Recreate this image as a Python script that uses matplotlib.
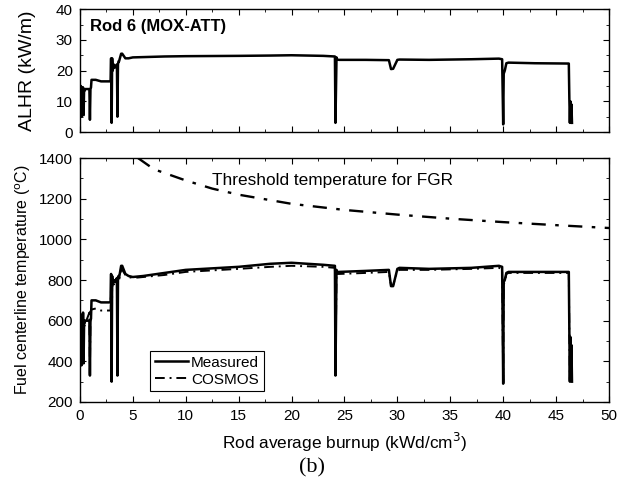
import matplotlib.pyplot as plt
from matplotlib.ticker import MultipleLocator

plt.rcParams["font.family"] = ["Liberation Sans", "DejaVu Sans"]
plt.rcParams["font.size"] = 11


# DATA

burnup_alhr = [0.0, 0.05, 0.1, 0.15, 0.2, 0.25, 0.3, 0.35, 0.4, 0.45, 0.5,
               0.9, 0.95, 1.0, 1.05, 1.1, 1.5, 2.0, 2.9, 2.95, 3.0, 3.05,
               3.1, 3.2, 3.3, 3.5, 3.55, 3.6, 3.65, 3.7, 3.9, 4.0, 4.3,
               4.6, 5.0, 6.0, 8.0, 10.0, 15.0, 18.0, 20.0, 23.0, 24.1,
               24.15, 24.25, 24.3, 24.5, 27.0, 29.2, 29.4, 29.6, 30.0,
               30.2, 33.0, 37.0, 39.6, 39.9, 40.0, 40.05, 40.15, 40.3,
               40.5, 43.0, 46.2, 46.25, 46.3, 46.35, 46.4, 46.45, 46.5]
alhr = [14.0, 6.0, 15.0, 5.0, 14.0, 7.0, 14.5, 5.5, 14.0, 13.5, 14.0,
        14.0, 4.0, 14.0, 14.5, 17.0, 17.0, 16.5, 16.5, 24.0, 3.0, 24.0,
        20.0, 22.0, 21.0, 22.0, 5.0, 22.0, 23.0, 23.0, 25.5, 25.5, 24.0,
        24.0, 24.3, 24.4, 24.6, 24.7, 24.8, 24.9, 25.0, 24.8, 24.6, 3.0,
        24.3, 23.6, 23.5, 23.5, 23.4, 20.5, 20.6, 23.5, 23.6, 23.5, 23.7,
        23.9, 23.7, 2.5, 19.0, 20.0, 22.4, 22.6, 22.4, 22.3, 11.0, 3.0,
        10.0, 3.5, 9.0, 3.0]

burnup_temp = [0.0, 0.05, 0.1, 0.15, 0.2, 0.25, 0.3, 0.35, 0.4, 0.45, 0.5,
               0.9, 0.95, 1.0, 1.05, 1.1, 1.5, 2.0, 2.9, 2.95, 3.0, 3.05,
               3.1, 3.2, 3.3, 3.5, 3.55, 3.6, 3.65, 3.7, 3.9, 4.0, 4.3,
               4.6, 5.0, 6.0, 8.0, 10.0, 15.0, 18.0, 20.0, 23.0, 24.1,
               24.15, 24.25, 24.3, 24.5, 27.0, 29.2, 29.4, 29.6, 30.0,
               30.2, 33.0, 37.0, 39.6, 39.9, 40.0, 40.05, 40.15, 40.3,
               40.5, 43.0, 46.2, 46.25, 46.3, 46.35, 46.4, 46.45, 46.5]
temp_measured = [620, 400, 630, 380, 610, 420, 640, 390, 600, 590, 600,
                 600, 330, 600, 610, 700, 700, 690, 690, 830, 300, 820,
                 780, 800, 790, 810, 330, 800, 820, 810, 870, 870, 830,
                 820, 815, 820, 835, 850, 865, 880, 885, 875, 870, 330,
                 850, 840, 840, 845, 850, 770, 770, 855, 860, 855, 860,
                 870, 865, 290, 790, 800, 835, 840, 840, 840, 550, 300,
                 520, 320, 480, 300]
temp_cosmos = [580, 420, 600, 400, 590, 430, 610, 410, 580, 575, 585,
               640, 340, 645, 650, 655, 660, 650, 650, 780, 310, 780,
               760, 780, 775, 790, 340, 790, 800, 800, 850, 850, 825,
               815, 810, 815, 825, 840, 855, 865, 870, 865, 860, 340,
               840, 830, 830, 835, 840, 775, 775, 845, 850, 850, 855,
               860, 855, 300, 780, 790, 830, 835, 835, 835, 540, 310,
               510, 330, 470, 310]

burnup_fgr = [5.5, 7.0, 10.0, 12.5, 15.0, 20.0, 25.0, 30.0, 35.0, 40.0,
              45.0, 50.0]
temp_fgr = [1400, 1345, 1290, 1250, 1220, 1175, 1145, 1122, 1102, 1085,
            1070, 1056]


# FIGURA

fig = plt.figure(figsize=(6.24, 4.82), dpi=100)

ax1 = fig.add_axes([0.128, 0.726, 0.848, 0.255])
ax2 = fig.add_axes([0.128, 0.166, 0.848, 0.506])

ax1.plot(burnup_alhr, alhr, color="black", linewidth=1.8)
ax1.set_xlim(0, 50)
ax1.set_ylim(0, 40)
ax1.yaxis.set_major_locator(MultipleLocator(10))
ax1.yaxis.set_minor_locator(MultipleLocator(5))
ax1.set_ylabel("ALHR (kW/m)", fontsize=14, labelpad=14)
ax1.tick_params(labelbottom=False)
ax1.text(1.0, 33.0, "Rod 6 (MOX-ATT)", fontweight="bold", fontsize=12)

ax2.plot(burnup_temp, temp_measured, color="black", linewidth=1.8,
         label="Measured")
ax2.plot(burnup_temp, temp_cosmos, color="black", linewidth=1.4,
         linestyle=(0, (5, 2.5, 1, 2.5)), label="COSMOS")
ax2.plot(burnup_fgr, temp_fgr, color="black", linewidth=1.7,
         linestyle=(0, (6, 4, 1.5, 4)))
ax2.text(23.9, 1292, "Threshold temperature for FGR", ha="center",
         va="center", fontsize=12.4)
ax2.set_xlim(0, 50)
ax2.set_ylim(200, 1400)
ax2.yaxis.set_major_locator(MultipleLocator(200))
ax2.yaxis.set_minor_locator(MultipleLocator(100))
ax2.set_ylabel("Fuel centerline temperature ($^{\\rm o}$C)", fontsize=11.5)
ax2.set_xlabel("Rod average burnup (kWd/cm$^3$)", fontsize=12.4,
               labelpad=6)

leg = ax2.legend(loc="lower left", bbox_to_anchor=(0.118, 0.012),
                 fancybox=False, edgecolor="black", framealpha=1,
                 handlelength=2.2, handletextpad=0.2, borderpad=0.3,
                 labelspacing=0.2, fontsize=11)
leg.get_frame().set_linewidth(0.8)

for ax in (ax1, ax2):
    ax.xaxis.set_major_locator(MultipleLocator(5))
    ax.xaxis.set_minor_locator(MultipleLocator(2.5))
    ax.tick_params(which="both", direction="in", top=True, right=True)
    ax.tick_params(which="major", length=4, labelsize=11, pad=5)
    ax.tick_params(which="minor", length=2)
    for s in ax.spines.values():
        s.set_linewidth(1.0)

fig.text(0.5, 0.02, "(b)", ha="center", fontsize=16,
         family=["Liberation Serif", "DejaVu Serif"])

fig.savefig("out.png", dpi=100)
